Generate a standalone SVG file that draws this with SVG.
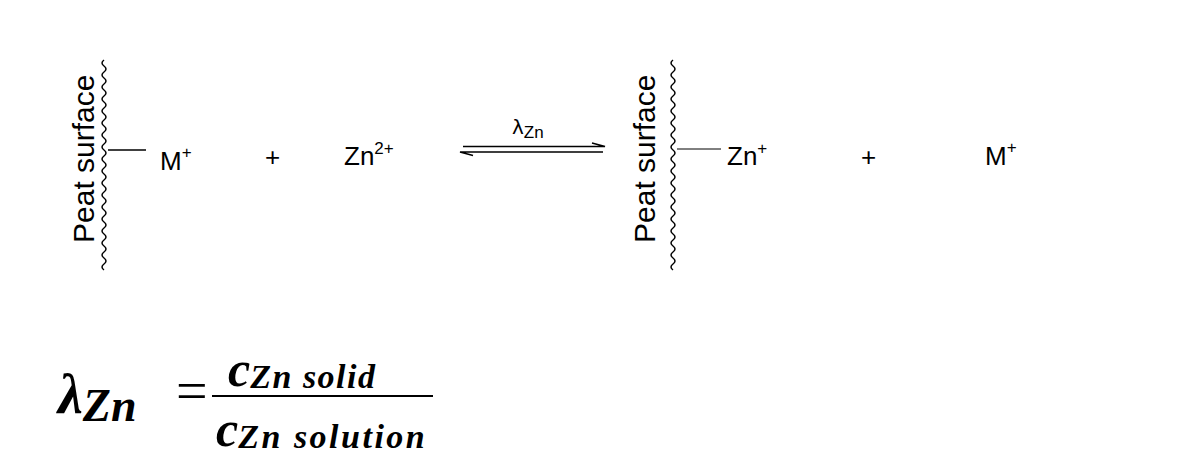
<svg xmlns="http://www.w3.org/2000/svg" width="1198" height="455" viewBox="0 0 1198 455">
<defs>
<style>
.t{font-family:"Liberation Sans",Arial,sans-serif;font-size:26px;fill:#000}
.pt{font-size:30px}
.s{font-size:17px}
.m{font-family:"Liberation Serif","DejaVu Serif",serif;font-style:italic;font-weight:bold;fill:#000}
.ln{stroke:#000;stroke-width:1.5;fill:none}
</style>
</defs>
<rect width="1198" height="455" fill="#fff"/>
<g id="surface1">
<path class="ln" d="M104,60 q-4,3 0,6 q4,3 0,6 q-4,3 0,6 q4,3 0,6 q-4,3 0,6 q4,3 0,6 q-4,3 0,6 q4,3 0,6 q-4,3 0,6 q4,3 0,6 q-4,3 0,6 q4,3 0,6 q-4,3 0,6 q4,3 0,6 q-4,3 0,6 q4,3 0,6 q-4,3 0,6 q4,3 0,6 q-4,3 0,6 q4,3 0,6 q-4,3 0,6 q4,3 0,6 q-4,3 0,6 q4,3 0,6 q-4,3 0,6 q4,3 0,6 q-4,3 0,6 q4,3 0,6 q-4,3 0,6 q4,3 0,6 q-4,3 0,6 q4,3 0,6 q-4,3 0,6 q4,3 0,6 q-4,3 0,6"/>
<text class="t pt" transform="translate(94,243) rotate(-90)">Peat surface</text>
</g>
<g id="surface2">
<path class="ln" d="M673,60 q-4,3 0,6 q4,3 0,6 q-4,3 0,6 q4,3 0,6 q-4,3 0,6 q4,3 0,6 q-4,3 0,6 q4,3 0,6 q-4,3 0,6 q4,3 0,6 q-4,3 0,6 q4,3 0,6 q-4,3 0,6 q4,3 0,6 q-4,3 0,6 q4,3 0,6 q-4,3 0,6 q4,3 0,6 q-4,3 0,6 q4,3 0,6 q-4,3 0,6 q4,3 0,6 q-4,3 0,6 q4,3 0,6 q-4,3 0,6 q4,3 0,6 q-4,3 0,6 q4,3 0,6 q-4,3 0,6 q4,3 0,6 q-4,3 0,6 q4,3 0,6 q-4,3 0,6 q4,3 0,6 q-4,3 0,6"/>
<text class="t pt" transform="translate(655,243) rotate(-90)">Peat surface</text>
</g>
<g id="connectors">
<line class="ln" x1="108" y1="150" x2="146" y2="150"/>
<line x1="677" y1="149" x2="721" y2="149" stroke="#000" stroke-width="1"/>
<path d="M463,146.5 H602 M592,143 L605,146.5 H600" class="ln"/>
<path d="M603,152 H463 M473,155.5 L460,152 H465" class="ln"/>
</g>
<g id="m1"><text class="t" x="160" y="170">M<tspan class="s" dy="-12">+</tspan></text></g>
<g id="p1"><text class="t" x="265" y="166">+</text></g>
<g id="zn2"><text class="t" x="344" y="165">Zn<tspan class="s" dy="-11">2+</tspan></text></g>
<g id="lam"><text x="512" y="134" style="font-family:'DejaVu Sans',sans-serif;font-size:20px">λ<tspan style="font-family:'Liberation Sans',sans-serif;font-size:17px" dy="4">Zn</tspan></text></g>
<g id="zn1"><text class="t" x="727" y="165">Zn<tspan class="s" dy="-11">+</tspan></text></g>
<g id="p2"><text class="t" x="861" y="166">+</text></g>
<g id="m2"><text class="t" x="985" y="165">M<tspan class="s" dy="-12">+</tspan></text></g>
<g id="formula">
<text class="m" x="58" y="413" font-size="56">λ<tspan font-size="46" dy="8">Zn</tspan></text>
<text x="176" y="410" font-family="Liberation Serif,serif" font-size="56" fill="#000">=</text>
<line x1="212" y1="396" x2="433" y2="396" stroke="#000" stroke-width="2"/>
<text class="m" x="228" y="386" font-size="50">c<tspan font-size="34" dy="2" letter-spacing="1.5">Zn solid</tspan></text>
<text class="m" x="216" y="446" font-size="50">c<tspan font-size="34" dy="2" letter-spacing="2.5">Zn solution</tspan></text>
</g>
</svg>
